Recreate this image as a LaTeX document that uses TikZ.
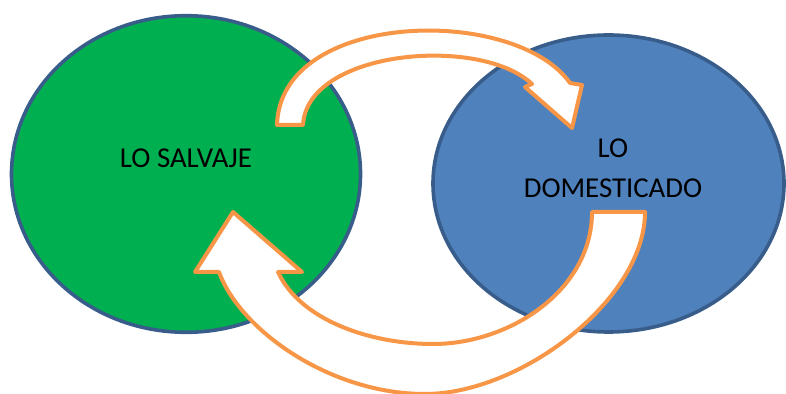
\documentclass[tikz,border=0pt]{standalone}
\usepackage{fontspec}
\setmainfont{Carlito}
\usetikzlibrary{shapes.geometric}
\definecolor{grassgreen}{HTML}{00B050}
\definecolor{steelblue}{HTML}{4F81BD}
\definecolor{rimblue}{HTML}{385D8A}
\definecolor{peach}{HTML}{F79646}
\tikzset{
  wildnode/.style={
    ellipse,
    draw=rimblue,
    fill=grassgreen,
    line width=1.8pt,
    minimum width=174.5pt,
    minimum height=158.3pt,
    inner sep=0pt
  },
  tamenode/.style={
    ellipse,
    draw=rimblue,
    fill=steelblue,
    line width=1.8pt,
    minimum width=175.5pt,
    minimum height=148.5pt,
    inner sep=0pt
  },
  areatext/.style={font=\fontsize{14.4}{20.2}\selectfont,align=center,inner sep=0pt},
  turnarrow/.style={draw=peach,fill=white,line width=2pt,line join=round}
}

\begin{document}
\begin{tikzpicture}[x=0.5pt,y=-0.5pt]
  \useasboundingbox (0,0) rectangle (786,394);

  \node[wildnode] (salvaje)   at (186,174)     {};
  \node[tamenode] (domestico) at (608.5,183.5) {};

  \node[areatext,anchor=base] (salvajetxt)   at (186,168)   {LO SALVAJE};
  \node[areatext]             (domesticotxt) at (613,168.3) {LO\\DOMESTICADO};

  % upper arrow: wild -> tame
  \draw[turnarrow]
    (277,125) .. controls (280,10) and (515,5) .. (570,83)
    -- (582,85) -- (572,128) -- (525,87) -- (532,84)
    .. controls (480,35) and (307,50) .. (303,125)
    -- cycle;

  % lower arrow: tame -> wild
  \draw[turnarrow]
    (645,212) .. controls (645,300) and (520,394) .. (425,394)
    .. controls (330,394) and (240,330) .. (219,272)
    -- (195,272) -- (233,212) -- (302,272) -- (278,272)
    .. controls (300,320) and (370,344) .. (433,344)
    .. controls (510,344) and (592,290) .. (592,212)
    -- cycle;
\end{tikzpicture}
\end{document}
